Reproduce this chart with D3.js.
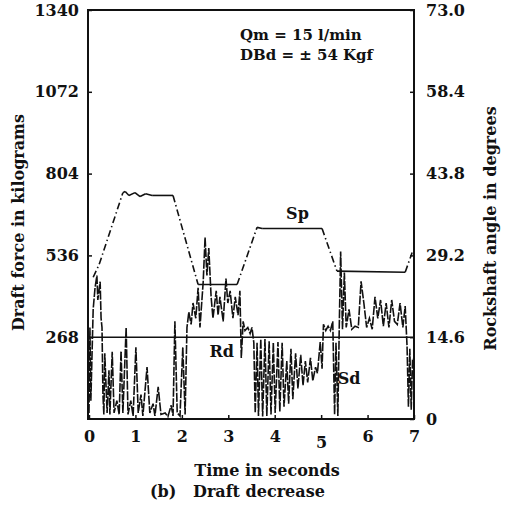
<!DOCTYPE html>
<meta charset="utf-8">
<title>Draft decrease</title>
<style>
  body { margin: 0; background: #fff; }
  text { font-family: "DejaVu Serif", "Liberation Serif", serif; fill: #111; }
</style>
<body>
<div id="my_dataviz"></div>
<script src="https://d3js.org/d3.v7.min.js"></script>
<script>

// tick labels
var timeTicks = [0, 1, 2, 3, 4, 5, 6, 7];
var forceTicks = [268, 536, 804, 1072, 1340];
var angleTicks = ["0", "14.6", "29.2", "43.8", "58.4", "73.0"];

// Sp : rockshaft position trace (seconds, degrees)
var spTime  = [0.09, 0.22, 0.73, 0.78, 0.86, 0.99, 1.10, 1.22, 1.36, 1.81, 2.35, 3.19, 3.62, 3.73, 5.02, 5.34, 6.81, 6.96];
var spAngle = [25.3, 27.6, 40.4, 40.6, 39.9, 40.4, 39.7, 40.2, 39.9, 39.9, 24.0, 24.0, 34.2, 34.0, 34.0, 26.4, 26.2, 29.7];

// Rd : reference draft (kgf)
var rdForce = 268;

// draft force trace (seconds, kgf)
var draftTime = [
  0.00, 0.02, 0.04, 0.09, 0.13, 0.17, 0.19, 0.24, 0.26, 0.28, 0.30, 0.32, 0.34, 0.39, 0.43, 0.45,
  0.50, 0.54, 0.60, 0.65, 0.69, 0.73, 0.80, 0.84, 0.90, 0.95, 1.01, 1.06, 1.12, 1.16, 1.25, 1.31,
  1.38, 1.42, 1.49, 1.55, 1.64, 1.70, 1.77, 1.81, 1.85, 1.90, 1.96, 2.02, 2.07, 2.11, 2.15, 2.20,
  2.24, 2.30, 2.35, 2.39, 2.46, 2.50, 2.54, 2.58, 2.63, 2.67, 2.74, 2.78, 2.82, 2.89, 2.95, 2.99,
  3.04, 3.10, 3.15, 3.21, 3.25, 3.28, 3.32, 3.36, 3.42, 3.47, 3.51, 3.55, 3.58, 3.62, 3.65, 3.70,
  3.74, 3.79, 3.83, 3.88, 3.92, 3.97, 4.01, 4.07, 4.11, 4.16, 4.20, 4.26, 4.30, 4.35, 4.39, 4.45,
  4.50, 4.56, 4.61, 4.66, 4.71, 4.77, 4.82, 4.88, 4.92, 4.98, 5.02, 5.05, 5.10, 5.15, 5.20, 5.25,
  5.29, 5.32, 5.36, 5.39, 5.42, 5.46, 5.50, 5.54, 5.60, 5.66, 5.73, 5.80, 5.86, 5.92, 5.98, 6.04,
  6.10, 6.16, 6.22, 6.28, 6.34, 6.40, 6.46, 6.52, 6.58, 6.64, 6.70, 6.76, 6.81, 6.85, 6.88, 6.91,
  6.94, 6.97
];
var draftForce = [
  20, 300, 60, 360, 430, 470, 390, 450, 330, 300, 80, 15, 215, 20, 160, 15,
  220, 20, 60, 15, 222, 20, 300, 15, 60, 10, 235, 20, 80, 10, 170, 20,
  50, 10, 105, 15, 20, 8, 45, 10, 320, 20, 10, 235, 15, 300, 350, 310,
  380, 330, 430, 300, 450, 595, 470, 560, 400, 330, 420, 340, 400, 320, 460, 380,
  420, 330, 400, 340, 420, 200, 320, 290, 300, 280, 300, 250, 20, 250, 10, 262,
  8, 262, 10, 255, 15, 250, 20, 252, 25, 250, 40, 190, 50, 230, 65, 215,
  100, 210, 110, 190, 120, 200, 125, 170, 150, 252, 165, 310, 290, 304, 290, 320,
  15, 250, 10, 300, 549, 294, 480, 300, 359, 294, 304, 300, 451, 380, 300, 330,
  294, 400, 330, 390, 304, 380, 300, 390, 320, 310, 380, 300, 370, 240, 40, 230,
  30, 200
];

// dimensões da area
var margin = {top: 10, right: 91, bottom: 93, left: 88},
    width = 505 - margin.left - margin.right,
    height = 512 - margin.top - margin.bottom;

var svg = d3.select("#my_dataviz")
  .append("svg")
    .attr("width", width + margin.left + margin.right)
    .attr("height", height + margin.top + margin.bottom)
  .append("g")
    .attr("transform", "translate(" + margin.left + "," + margin.top + ")");

// scales
var x = d3.scaleLinear().domain([0, 7]).range([1, width]);
var y = d3.scaleLinear().domain([0, 1340]).range([height, 0]);
var y2 = d3.scaleLinear().domain([0, 73]).range([height, 0]);

// frame
svg.append("rect")
    .attr("x", 0).attr("y", 0)
    .attr("width", width).attr("height", height)
    .attr("fill", "none")
    .attr("stroke", "#111")
    .attr("stroke-width", 2);

// axes (ticks point inward)
var bottom = svg.append("g")
    .attr("transform", "translate(0," + height + ")")
    .call(d3.axisBottom(x).tickValues(timeTicks).tickFormat(d3.format("d"))
      .tickSizeInner(-4).tickSizeOuter(0).tickPadding(12));
bottom.selectAll("text").style("font-size", "16px").style("font-weight", "bold");
// the "5" sits a little lower in the original print
bottom.selectAll(".tick").filter(function(d) { return d === 5; })
    .select("text").attr("y", 18);

var left = svg.append("g")
    .call(d3.axisLeft(y).tickValues(forceTicks).tickFormat(d3.format("d"))
      .tickSizeInner(-4).tickSizeOuter(0).tickPadding(9));
left.selectAll("text").style("font-size", "16px").style("font-weight", "bold");

var right = svg.append("g")
    .attr("transform", "translate(" + width + ",0)")
    .call(d3.axisRight(y2).tickValues(angleTicks.map(Number))
      .tickFormat(function(d, i) { return angleTicks[i]; })
      .tickSizeInner(-4).tickSizeOuter(0).tickPadding(12));
right.selectAll("text").style("font-size", "16px").style("font-weight", "bold");

svg.selectAll(".domain").remove();
svg.selectAll(".tick line").attr("stroke", "#111").attr("stroke-width", 1.5);

// Rd line
svg.append("line")
    .attr("x1", 0).attr("x2", width)
    .attr("y1", y(rdForce)).attr("y2", y(rdForce))
    .attr("stroke", "#111")
    .attr("stroke-width", 1.5);

// draft force trace
var draft = draftTime.map(function(t, i) { return [t, draftForce[i]]; });
svg.append("path")
    .datum(draft)
    .attr("fill", "none")
    .attr("stroke", "#111")
    .attr("stroke-width", 1.6)
    .attr("stroke-dasharray", "9,1.5")
    .attr("d", d3.line()
      .x(function(d) { return x(d[0]); })
      .y(function(d) { return y(d[1]); }));

// Sp trace: flat parts solid, ramps dash-dot
var sp = spTime.map(function(t, i) { return [t, spAngle[i]]; });
var segs = d3.pairs(sp);
svg.selectAll(".sp")
    .data(segs)
    .enter()
    .append("line")
      .attr("x1", function(d) { return x(d[0][0]); })
      .attr("y1", function(d) { return y2(d[0][1]); })
      .attr("x2", function(d) { return x(d[1][0]); })
      .attr("y2", function(d) { return y2(d[1][1]); })
      .attr("stroke", "#111")
      .attr("stroke-width", 1.6)
      .attr("stroke-dasharray", function(d) {
        return Math.abs(d[1][1] - d[0][1]) > 2 ? "7,3,1.5,3" : null;
      });

// curve labels
function label(t, v, s) {
  svg.append("text")
      .attr("x", x(t)).attr("y", y(v))
      .attr("text-anchor", "middle")
      .attr("dy", "0.35em")
      .style("font-size", "16px")
      .style("font-weight", "bold")
      .text(s);
}
label(4.49, 675, "Sp");
label(2.86, 220, "Rd");
label(5.60, 134, "Sd");

// test conditions
svg.append("text").attr("x", 152).attr("y", 30)
    .style("font-size", "15px").style("font-weight", "bold").text("Qm = 15 l/min");
svg.append("text").attr("x", 152).attr("y", 50)
    .style("font-size", "15px").style("font-weight", "bold").text("DBd = \u00b1 54 Kgf");

// axis titles
svg.append("text")
    .attr("transform", "translate(-64," + (height / 2 + 8) + ") rotate(-90)")
    .attr("text-anchor", "middle")
    .style("font-size", "16px")
    .style("font-weight", "bold")
    .text("Draft force in kilograms");
svg.append("text")
    .attr("transform", "translate(" + (width + 82) + "," + (height / 2 + 14) + ") rotate(-90)")
    .attr("text-anchor", "middle")
    .style("font-size", "16px")
    .style("font-weight", "bold")
    .text("Rockshaft angle in degrees");
svg.append("text")
    .attr("x", 179).attr("y", height + 57)
    .attr("text-anchor", "middle")
    .style("font-size", "16px")
    .style("font-weight", "bold")
    .text("Time in seconds");
svg.append("text")
    .attr("x", 62).attr("y", height + 78)
    .style("font-size", "16px")
    .style("font-weight", "bold")
    .attr("xml:space", "preserve")
    .text("(b)   Draft decrease");

</script>
</body>
